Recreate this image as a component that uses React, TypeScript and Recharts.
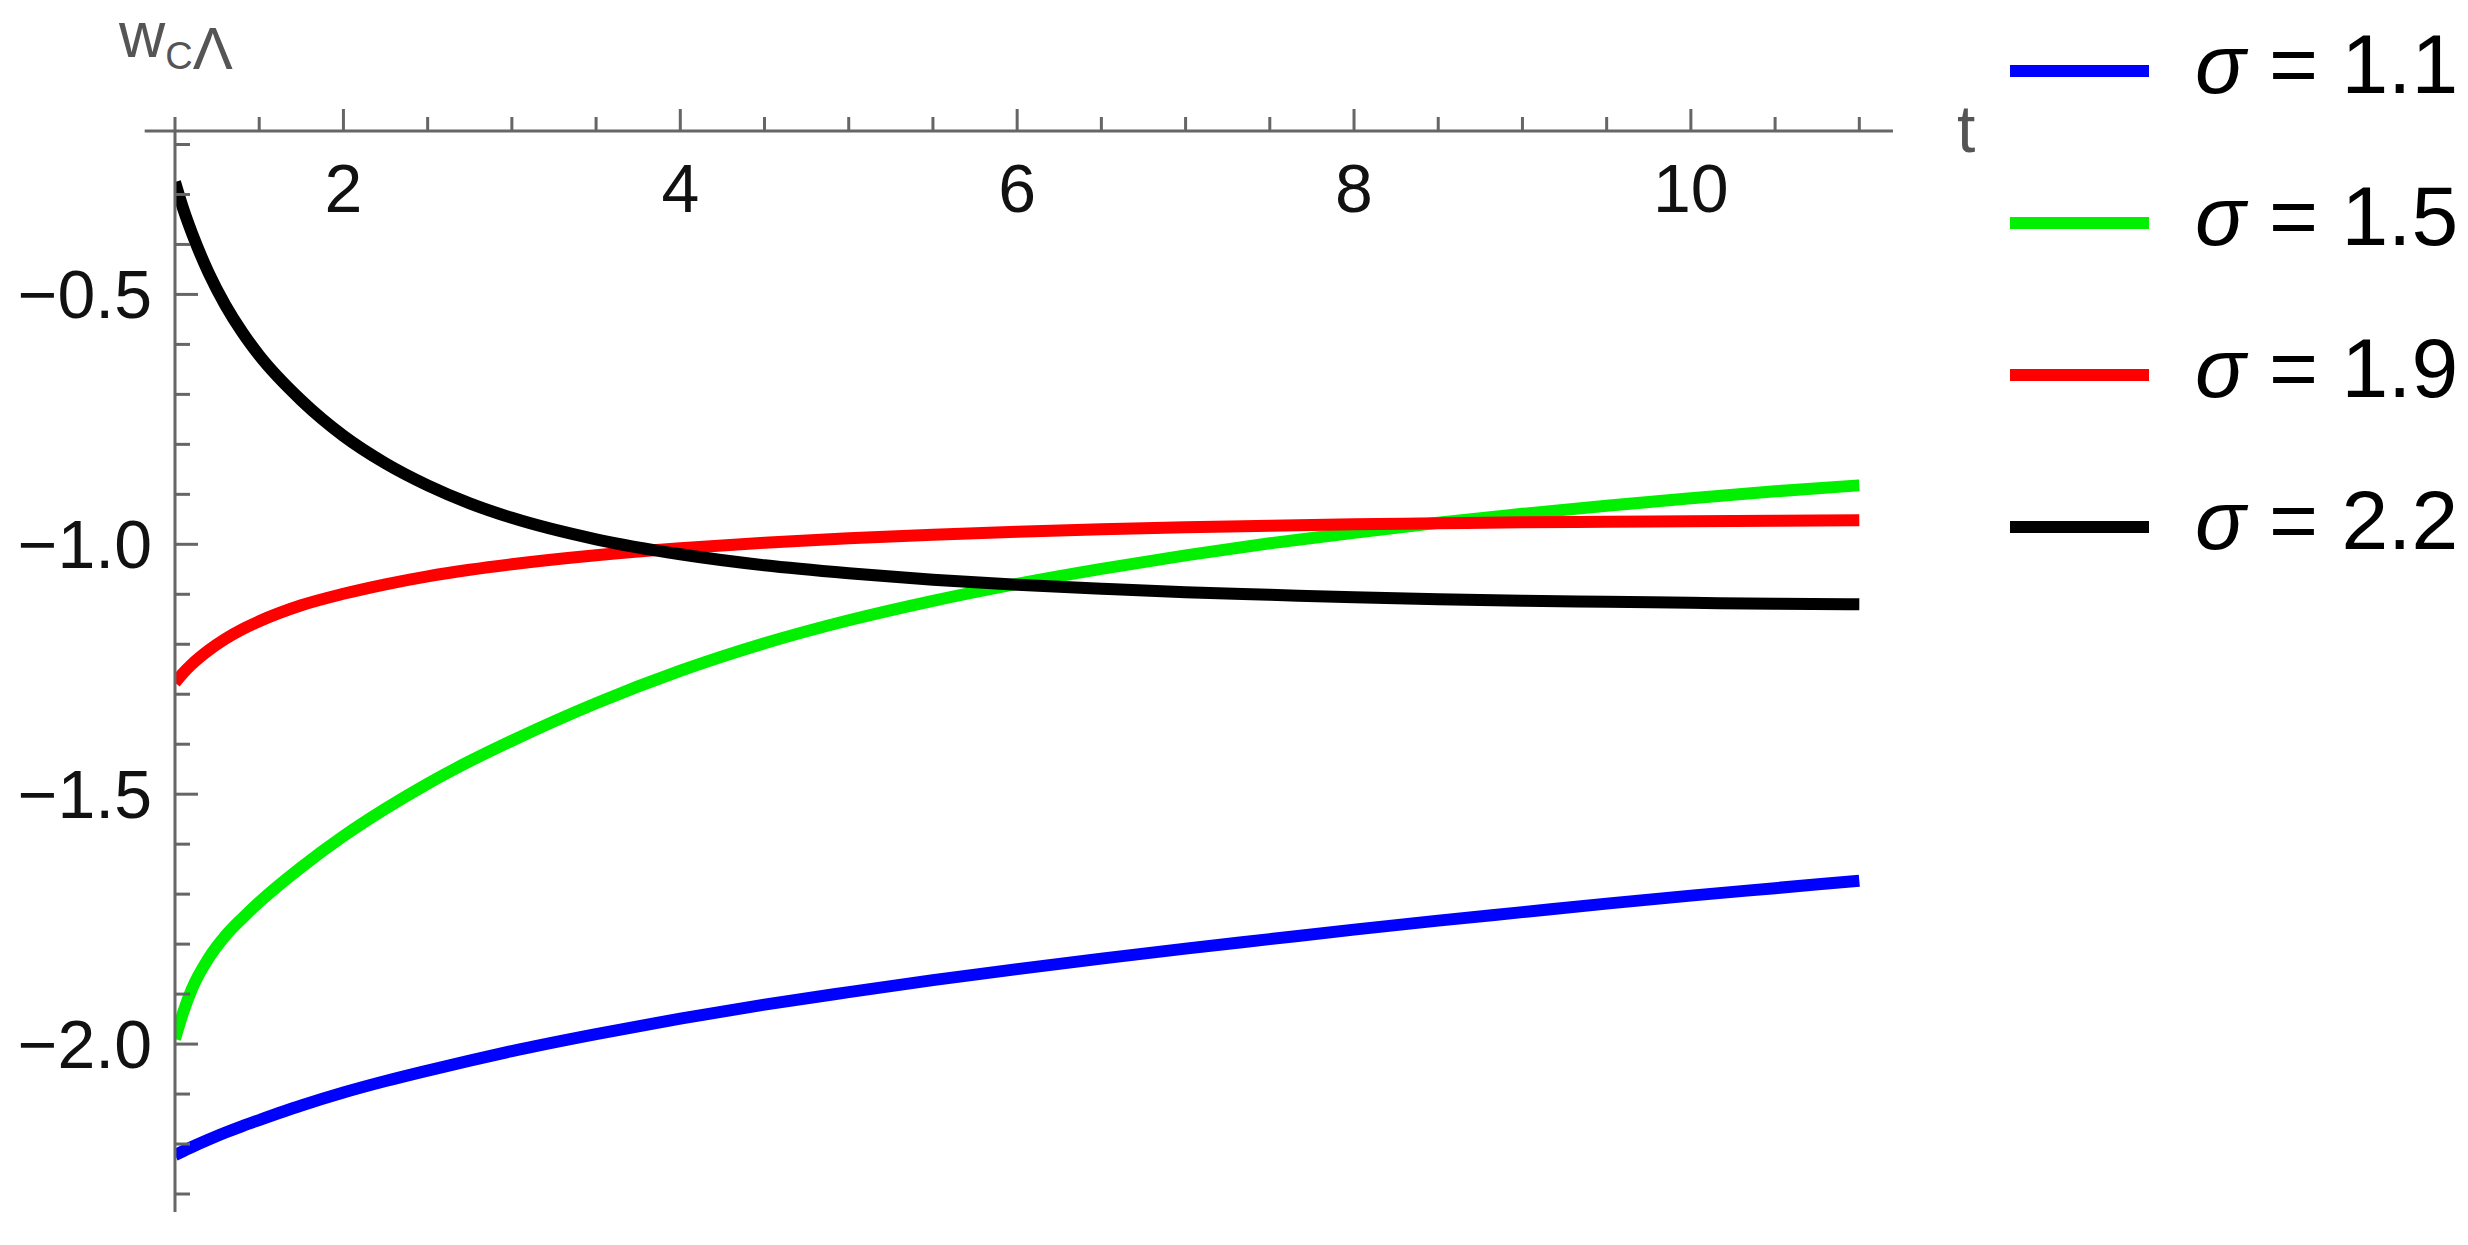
import React from "react";
import { Legend, Line, LineChart, ReferenceLine, XAxis, YAxis } from "recharts";

// Sample times along t.
const T = [
  1, 1.05, 1.1, 1.2, 1.3, 1.4, 1.5, 1.75, 2, 2.25, 2.5, 2.75, 3, 3.5, 4, 4.5, 5, 5.5, 6, 6.5, 7, 7.5, 8,
  8.5, 9, 9.5, 10, 10.5, 11,
];

// w_CΛ(t), one array per σ.
const SIGMA_11 = [
  -2.222, -2.214, -2.206, -2.191, -2.177, -2.164, -2.152, -2.123, -2.097, -2.074, -2.053, -2.033, -2.014,
  -1.98, -1.949, -1.921, -1.896, -1.872, -1.85, -1.829, -1.809, -1.79, -1.771, -1.753, -1.736, -1.719,
  -1.703, -1.688, -1.673,
];
const SIGMA_15 = [
  -1.99, -1.935, -1.89, -1.828, -1.783, -1.748, -1.716, -1.646, -1.584, -1.529, -1.479, -1.434, -1.393,
  -1.318, -1.253, -1.198, -1.152, -1.113, -1.079, -1.049, -1.022, -0.998, -0.977, -0.957, -0.939, -0.923,
  -0.908, -0.894, -0.882,
];
const SIGMA_19 = [
  -1.277, -1.257, -1.24, -1.212, -1.189, -1.17, -1.154, -1.122, -1.099, -1.08, -1.064, -1.051, -1.04,
  -1.022, -1.008, -0.997, -0.988, -0.981, -0.975, -0.97, -0.966, -0.963, -0.96, -0.958, -0.956, -0.955,
  -0.954, -0.953, -0.952,
];
const SIGMA_22 = [
  -0.275, -0.33, -0.377, -0.457, -0.522, -0.576, -0.622, -0.712, -0.783, -0.838, -0.882, -0.918, -0.947,
  -0.99, -1.02, -1.042, -1.058, -1.071, -1.081, -1.089, -1.096, -1.101, -1.106, -1.11, -1.113, -1.115,
  -1.117, -1.119, -1.12,
];

const SERIES = [
  { key: "s11", label: "σ = 1.1", color: "#0000ff", values: SIGMA_11 },
  { key: "s15", label: "σ = 1.5", color: "#00f000", values: SIGMA_15 },
  { key: "s19", label: "σ = 1.9", color: "#ff0000", values: SIGMA_19 },
  { key: "s22", label: "σ = 2.2", color: "#000000", values: SIGMA_22 },
];

const X_TICKS = [1, 1.5, 2, 2.5, 3, 3.5, 4, 4.5, 5, 5.5, 6, 6.5, 7, 7.5, 8, 8.5, 9, 9.5, 10, 10.5, 11];
const X_LABELS = [2, 4, 6, 8, 10];
const Y_TICKS = [
  -2.3, -2.2, -2.1, -2.0, -1.9, -1.8, -1.7, -1.6, -1.5, -1.4, -1.3, -1.2, -1.1, -1.0, -0.9, -0.8, -0.7,
  -0.6, -0.5, -0.4, -0.3, -0.2,
];
const Y_LABELS = [-2.0, -1.5, -1.0, -0.5];

const X_DOMAIN = [1, 11.2];
const Y_DOMAIN = [-2.336, -0.173];
const X_AXIS_START = 0.82;

const rows = T.map((t, i) => {
  const row: Record<string, number> = { t };
  SERIES.forEach((s) => {
    row[s.key] = s.values[i];
  });
  return row;
});

const AXIS = "#666666";
const FONT = "'Liberation Sans', Arial, sans-serif";

const fmtY = (v: number) => (v < 0 ? "\u2212" : "") + Math.abs(v).toFixed(1);

function XTick(props: any) {
  const { x, y, payload } = props;
  const major = X_LABELS.includes(payload.value);
  return (
    <g>
      <line x1={x} x2={x} y1={y} y2={y - (major ? 22 : 14)} stroke={AXIS} strokeWidth={3} />
      {major && (
        <text x={x} y={y + 81} textAnchor="middle" fontSize={68} fontFamily={FONT} fill="#111">
          {payload.value}
        </text>
      )}
    </g>
  );
}

function YTick(props: any) {
  const { x, y, payload } = props;
  const major = Y_LABELS.some((v) => Math.abs(v - payload.value) < 1e-6);
  return (
    <g>
      <line x1={x} x2={x + (major ? 23 : 15)} y1={y} y2={y} stroke={AXIS} strokeWidth={3} />
      {major && (
        <text x={x - 23} y={y + 24} textAnchor="end" fontSize={68} fontFamily={FONT} fill="#111">
          {fmtY(payload.value)}
        </text>
      )}
    </g>
  );
}

function TTitle(props: any) {
  const vb = props.viewBox;
  return (
    <text x={vb.x + vb.width + 64} y={vb.y + vb.height + 21} fontSize={66} fontFamily={FONT} fill="#555">
      t
    </text>
  );
}

function WTitle(props: any) {
  const vb = props.viewBox;
  return (
    <text x={119} y={vb.y - 74} fontSize={64} fontFamily={FONT} fill="#555">
      w
      <tspan fontSize={38} dy={12}>
        C
      </tspan>
      <tspan fontSize={60}>Λ</tspan>
    </text>
  );
}

function SigmaLegend(props: any) {
  const { payload } = props;
  return (
    <svg width={468} height={620} style={{ display: "block" }}>
      {(payload || []).map((entry: any, i: number) => {
        const y = 71 + i * 152;
        const rest = String(entry.value).slice(1);
        return (
          <g key={entry.value}>
            <line x1={10} x2={149} y1={y} y2={y} stroke={entry.color} strokeWidth={12} />
            <text x={195} y={y + 22} fontSize={84} fontFamily={FONT} fill="#000">
              <tspan fontStyle="italic">σ</tspan>
              {rest}
            </text>
          </g>
        );
      })}
    </svg>
  );
}

export default function App() {
  return (
    <div style={{ position: "absolute", left: 0, top: 0, background: "#fff" }}>
      <LineChart width={2468} height={1245} data={rows} margin={{ top: 0, right: 575, bottom: 33, left: 0 }}>
        <XAxis
          dataKey="t"
          type="number"
          orientation="top"
          height={131}
          domain={X_DOMAIN}
          allowDataOverflow
          ticks={X_TICKS}
          interval={0}
          tick={XTick}
          tickLine={false}
          tickSize={0}
          tickMargin={0}
          axisLine={{ stroke: AXIS, strokeWidth: 3 }}
          label={TTitle}
        />
        <YAxis
          type="number"
          width={175}
          domain={Y_DOMAIN}
          allowDataOverflow
          ticks={Y_TICKS}
          interval={0}
          tick={YTick}
          tickLine={false}
          tickSize={0}
          tickMargin={0}
          axisLine={{ stroke: AXIS, strokeWidth: 3 }}
          label={WTitle}
        />
        <ReferenceLine
          segment={[
            { x: X_AXIS_START, y: Y_DOMAIN[1] },
            { x: X_DOMAIN[0], y: Y_DOMAIN[1] },
          ]}
          stroke={AXIS}
          strokeWidth={3}
          ifOverflow="visible"
        />
        <Legend
          layout="vertical"
          align="center"
          verticalAlign="middle"
          content={SigmaLegend}
          wrapperStyle={{ left: 2000, top: 0, width: 468 }}
        />
        {SERIES.map((s) => (
          <Line
            key={s.key}
            dataKey={s.key}
            name={s.label}
            type="monotone"
            stroke={s.color}
            strokeWidth={12}
            dot={false}
            activeDot={false}
            isAnimationActive={false}
          />
        ))}
      </LineChart>
    </div>
  );
}
